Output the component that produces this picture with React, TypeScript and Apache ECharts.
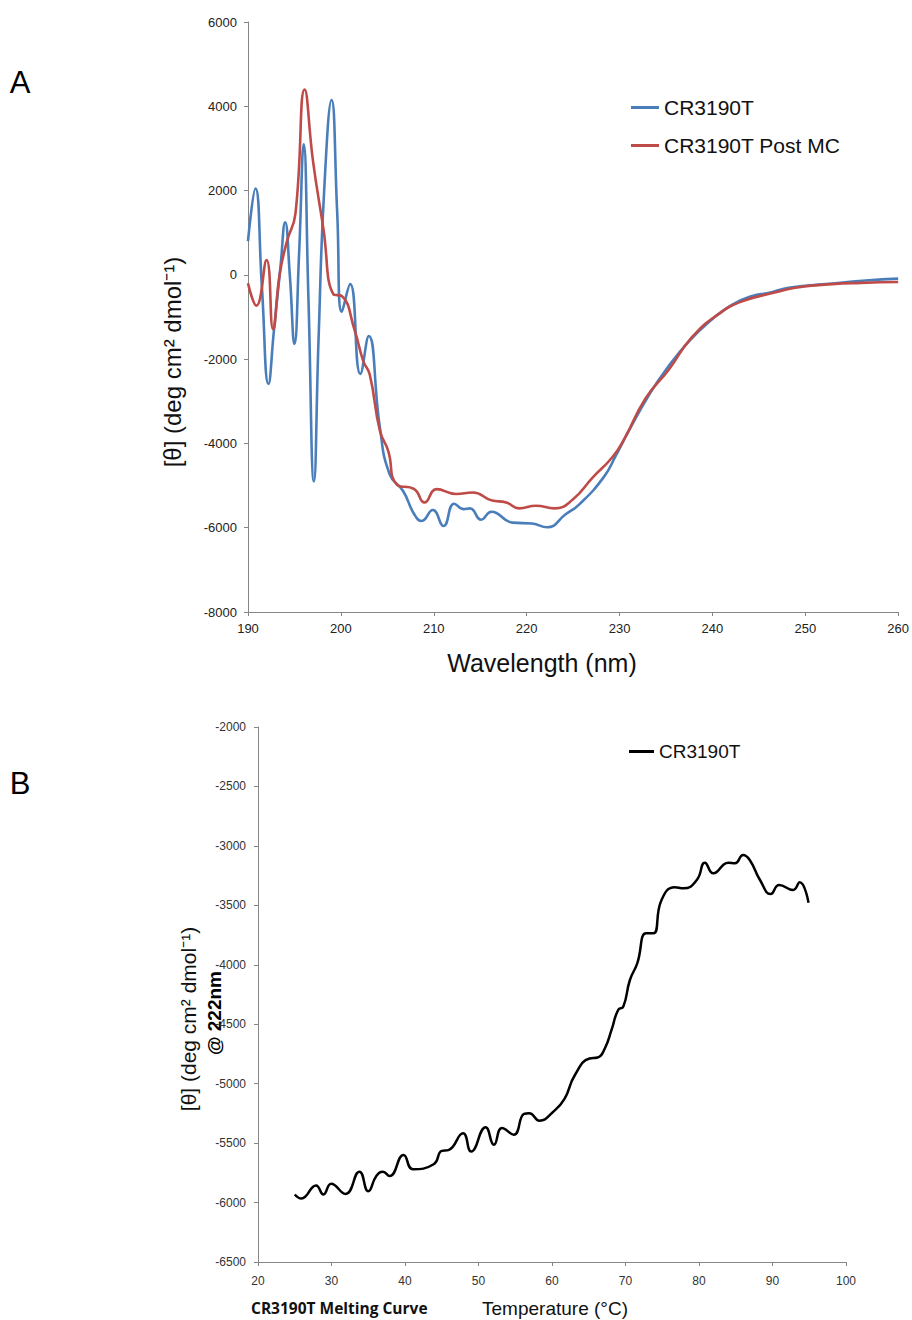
import React, { useEffect, useRef } from "react";
import * as echarts from "echarts";

// Panel A: CD spectra
const wavelengthTicks = [190, 200, 210, 220, 230, 240, 250, 260];
const blueWavelength = [
  190.0, 190.8, 191.5, 192.2, 192.8, 193.5, 194.0, 194.5, 195.0, 195.5, 196.0, 196.5, 197.1, 197.6, 198.2, 199.0,
  199.6, 200.1, 201.0, 202.1, 203.0, 204.2, 205.25, 206.7, 207.9, 208.7, 209.9, 211.05, 212.2, 213.2, 213.9,
  215.1, 216.2, 218.5, 220.6, 222.2, 224.2, 225.7, 228.3, 229.6, 231.0, 233.2, 235.0, 237.5, 240.0, 242.1,
  244.3, 246.0, 248.2, 252.2, 256.5, 260.0,
];
const blueTheta = [
  800, 2050, -300, -2590, -1300, 200, 1250, 0, -1640, 500, 3100, -500, -4900, -1500, 2000, 4150,
  1500, -880, -220, -2350, -1450, -3620, -4730, -5130, -5680, -5840, -5580, -5960, -5430, -5560, -5540,
  -5810, -5620, -5880, -5900, -5990, -5680, -5440, -4800, -4290, -3700, -2840, -2250, -1570, -1050, -710,
  -500, -430, -305, -220, -135, -90,
];
const redWavelength = [
  190.0, 190.9, 192.0, 192.7, 193.4, 194.2, 195.1, 196.1, 197.0, 198.1, 199.2, 200.1, 201.5, 202.4, 203.1,
  204.2, 205.1, 206.0, 207.9, 209.0, 210.3, 212.4, 214.2, 216.2, 217.8, 219.2, 221.0, 223.0, 225.0, 227.1,
  229.2, 230.5, 232.8, 235.3, 237.8, 240.7, 243.2, 246.8, 248.9, 252.9, 256.0, 260.0,
];
const redTheta = [
  -200, -730, 350, -1290, 0, 800, 1440, 4400, 2700, 1120, -460, -500, -1330, -2040, -2360,
  -3700, -4180, -4970, -5085, -5400, -5085, -5200, -5165, -5350, -5400, -5540, -5480, -5540, -5325, -4810,
  -4335, -3900, -2930, -2250, -1480, -925, -630, -415, -305, -220, -190, -170,
];

// Panel B: melting curve at 222 nm
const temperature = [
  25.0, 25.9, 27.9, 28.9, 29.95, 31.9, 33.8, 35.0, 36.1, 37.0, 37.9, 39.8, 41.1, 43.9, 45.0, 45.9, 47.9, 49.0,
  50.96, 52.1, 53.2, 54.8, 56.2, 56.9, 58.3, 60.1, 61.7, 63.1, 65.1, 66.2, 67.2, 68.1, 69.0, 69.7, 70.6, 71.6,
  72.8, 73.8, 74.9, 76.7, 77.9, 79.7, 80.8, 81.95, 83.99, 84.9, 86.0, 86.9, 88.3, 89.75, 90.9, 92.8, 93.7, 94.9,
];
const theta222 = [
  -5932, -5966, -5856, -5932, -5842, -5927, -5740, -5904, -5777, -5740, -5777, -5599, -5720, -5678, -5565, -5559,
  -5418, -5571, -5367, -5514, -5373, -5429, -5254, -5249, -5311, -5240, -5127, -4929, -4788, -4780, -4702, -4548,
  -4380, -4352, -4128, -3988, -3735, -3735, -3455, -3348, -3357, -3287, -3141, -3231, -3141, -3147, -3077, -3119,
  -3287, -3405, -3329, -3371, -3306, -3478,
];

const seriesNames = ["CR3190T", "CR3190T Post MC"];
const FONT = "'Liberation Sans', Arial, sans-serif";

function pairs(xs: number[], ys: number[]) {
  return xs.map((x, i) => [x, ys[i]]);
}

const plain = (v: number) => String(v);

export default function App() {
  const ref = useRef<HTMLDivElement>(null);

  useEffect(() => {
    if (!ref.current) return;
    const chart = echarts.init(ref.current, undefined, { renderer: "svg" });
    const axisLine = { show: true, lineStyle: { color: "#868686", width: 1 } };
    const axisTick = { show: true, inside: false, length: 4, lineStyle: { color: "#868686" } };
    chart.setOption({
      animation: false,
      backgroundColor: "#ffffff",
      textStyle: { fontFamily: FONT },
      grid: [
        { left: 248, top: 22, width: 652, height: 590 },
        { left: 258, top: 727, width: 588, height: 535 },
      ],
      xAxis: [
        {
          gridIndex: 0, type: "value", min: wavelengthTicks[0], max: wavelengthTicks[wavelengthTicks.length - 1], interval: 10,
          axisLine: { ...axisLine, onZero: false }, axisTick, splitLine: { show: false },
          axisLabel: { fontSize: 13, color: "#222", margin: 10, fontFamily: FONT, formatter: plain },
        },
        {
          gridIndex: 1, type: "value", min: 20, max: 100, interval: 10,
          axisLine: { ...axisLine, onZero: false }, axisTick, splitLine: { show: false },
          axisLabel: { fontSize: 12, color: "#333", margin: 13, fontFamily: FONT, formatter: plain },
        },
      ],
      yAxis: [
        {
          gridIndex: 0, type: "value", min: -8000, max: 6000, interval: 2000,
          axisLine: { ...axisLine, onZero: false }, axisTick, splitLine: { show: false },
          axisLabel: { fontSize: 13, color: "#222", margin: 11, fontFamily: FONT, formatter: plain },
        },
        {
          gridIndex: 1, type: "value", min: -6500, max: -2000, interval: 500,
          axisLine: { ...axisLine, onZero: false }, axisTick, splitLine: { show: false },
          axisLabel: { fontSize: 12, color: "#333", margin: 12, fontFamily: FONT, formatter: plain },
        },
      ],
      legend: [
        {
          left: 626, top: 91, orient: "vertical", icon: "rect", itemWidth: 28, itemHeight: 3, itemGap: 15,
          textStyle: { fontSize: 21, lineHeight: 23, color: "#111", fontFamily: FONT },
          data: [
            { name: seriesNames[0], itemStyle: { color: "#4a7ebb" } },
            { name: seriesNames[1], itemStyle: { color: "#be4b48" } },
          ],
          selectedMode: false,
        },
        {
          left: 624, top: 736, orient: "vertical", icon: "rect", itemWidth: 25, itemHeight: 3,
          textStyle: { fontSize: 19, lineHeight: 21, color: "#111", fontFamily: FONT },
          data: [{ name: seriesNames[0], itemStyle: { color: "#000000" } }],
          selectedMode: false,
        },
      ],
      series: [
        {
          name: seriesNames[0], type: "line", xAxisIndex: 0, yAxisIndex: 0, data: pairs(blueWavelength, blueTheta),
          smooth: 0.5, showSymbol: false, lineStyle: { color: "#4a7ebb", width: 2.6 }, itemStyle: { color: "#4a7ebb" },
        },
        {
          name: seriesNames[1], type: "line", xAxisIndex: 0, yAxisIndex: 0, data: pairs(redWavelength, redTheta),
          smooth: 0.5, showSymbol: false, lineStyle: { color: "#be4b48", width: 2.6 }, itemStyle: { color: "#be4b48" },
        },
        {
          name: seriesNames[0], type: "line", xAxisIndex: 1, yAxisIndex: 1, data: pairs(temperature, theta222),
          smooth: 0.5, showSymbol: false, lineStyle: { color: "#000000", width: 2.5 }, itemStyle: { color: "#000000" },
        },
      ],
      graphic: [
        { type: "text", x: 20, y: 82, style: { text: "A", fontSize: 31, fontFamily: FONT, fill: "#000", align: "center", verticalAlign: "middle" } },
        { type: "text", x: 20, y: 783, style: { text: "B", fontSize: 31, fontFamily: FONT, fill: "#000", align: "center", verticalAlign: "middle" } },
        { type: "text", x: 542, y: 663, style: { text: "Wavelength (nm)", fontSize: 25, fontFamily: FONT, fill: "#111", align: "center", verticalAlign: "middle" } },
        { type: "text", x: 172, y: 362, rotation: Math.PI / 2, style: { text: "[θ] (deg cm² dmol⁻¹)", fontSize: 24, fontFamily: FONT, fill: "#111", align: "center", verticalAlign: "middle" } },
        { type: "text", x: 188, y: 1019, rotation: Math.PI / 2, style: { text: "[θ] (deg cm² dmol⁻¹)", fontSize: 21, fontFamily: FONT, fill: "#111", align: "center", verticalAlign: "middle" } },
        { type: "text", x: 214, y: 1013, rotation: Math.PI / 2, style: { text: "@ 222nm", fontSize: 19, fontWeight: "bold", fontFamily: FONT, fill: "#000", align: "center", verticalAlign: "middle" } },
        { type: "text", x: 555, y: 1308, style: { text: "Temperature (°C)", fontSize: 19, fontFamily: FONT, fill: "#111", align: "center", verticalAlign: "middle" } },
        { type: "text", x: 251, y: 1308, style: { text: "CR3190T Melting Curve", fontSize: 15.5, fontWeight: "bold", fontFamily: "'Open Sans', sans-serif", fill: "#111", align: "left", verticalAlign: "middle" } },
      ],
    });
    return () => chart.dispose();
  }, []);

  return <div ref={ref} style={{ position: "absolute", left: 0, top: 0, width: 912, height: 1320, background: "#fff" }} />;
}
